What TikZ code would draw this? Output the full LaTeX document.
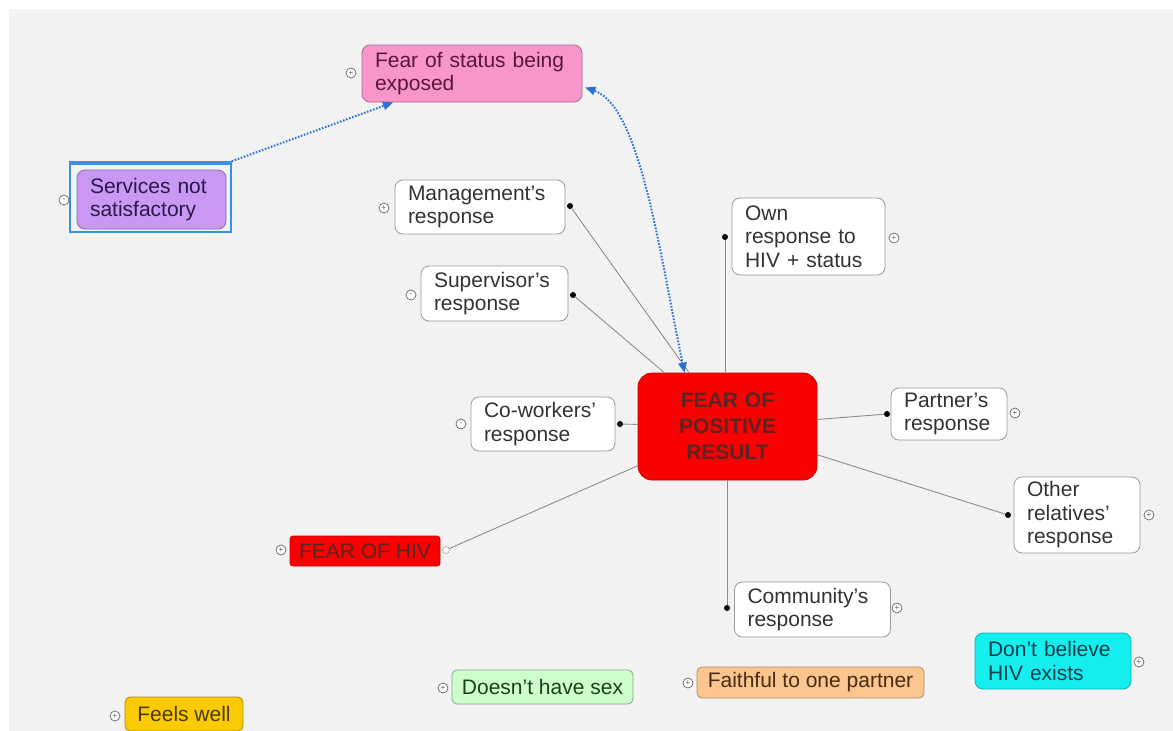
\documentclass[tikz,border=0pt]{standalone}
\usepackage{fontspec}
\setmainfont{Liberation Sans}
\usetikzlibrary{arrows.meta}
\definecolor{bggrey}{HTML}{F2F2F2}
\definecolor{boxline}{HTML}{9A9A9A}
\definecolor{txt}{HTML}{333333}
\definecolor{pinkfill}{HTML}{F896CA}
\definecolor{pinktxt}{HTML}{5A1838}
\definecolor{purplefill}{HTML}{C998F5}
\definecolor{purpletxt}{HTML}{2A1848}
\definecolor{redfill}{HTML}{FA0000}
\definecolor{redtxt}{HTML}{5C2424}
\definecolor{greenfill}{HTML}{CCFFCC}
\definecolor{greentxt}{HTML}{1C3F1C}
\definecolor{orangefill}{HTML}{FBC590}
\definecolor{orangetxt}{HTML}{4A2A10}
\definecolor{cyanfill}{HTML}{14EEEE}
\definecolor{cyantxt}{HTML}{0C3E4A}
\definecolor{yellowfill}{HTML}{FACA02}
\definecolor{yellowtxt}{HTML}{4A3A00}
\definecolor{selblue}{HTML}{3A8FE6}
\definecolor{arrowblue}{HTML}{2A72D2}
\definecolor{connline}{HTML}{8C8C8C}
\tikzset{
  topic/.style={draw=boxline, line width=0.8pt, rounded corners=8pt, fill=white,
    text=txt, align=left, inner xsep=13pt, inner ysep=2pt},
  oneline/.style={draw=boxline, line width=0.8pt, rounded corners=5pt,
    inner xsep=4pt, inner ysep=2pt},
  expander/.style={circle, draw=gray!80!black, fill=white, line width=0.7pt, minimum size=10pt,
    inner sep=0pt, font=\fontsize{8}{8}\selectfont, text=gray!70!black},
  dotend/.style={circle, fill=black, minimum size=6pt, inner sep=0pt},
  opendot/.style={circle, draw=gray, fill=white, minimum size=7pt, inner sep=0pt},
  conn/.style={draw=connline, line width=0.9pt},
  rel/.style={draw=arrowblue, line width=2pt, dash pattern=on 1.6pt off 1.6pt,
    {Triangle[length=10pt,width=9pt,fill=arrowblue,line width=0pt]}-{Triangle[length=10pt,width=9pt,fill=arrowblue,line width=0pt]}},
  relone/.style={draw=arrowblue, line width=2pt, dash pattern=on 1.6pt off 1.6pt,
    -{Triangle[length=10pt,width=9pt,fill=arrowblue,line width=0pt]}},
}
\begin{document}
\begin{tikzpicture}[x=1pt, y=-1pt, font=\fontsize{21}{23.5}\selectfont]
\useasboundingbox (0,0) rectangle (1173,731);
\fill[white] (0,0) rectangle (1173,731);
\fill[bggrey] (9,9) rectangle (1173,731);

% selection frame around "Services not satisfactory"
\node[draw=selblue, line width=1.5pt, minimum width=161pt, minimum height=70pt, inner sep=0pt] (sel) at (150.5,197) {};
\fill[selblue] (70,162) rectangle (231,165);

% topics
\node[topic, fill=pinkfill, draw=pinkfill!70!black, text=pinktxt, text width=194pt, minimum height=57pt] (status) at (472,73.5) {Fear of status being\\exposed};
\node[topic, fill=purplefill, draw=purplefill!70!black, text=purpletxt, text width=123pt, minimum height=59pt] (serv) at (151.5,199.5) {Services not\\satisfactory};
\node[topic, text width=144pt, minimum height=54pt] (mgmt) at (480,207) {Management's\\response};
\node[topic, text width=121pt, minimum height=55pt] (sup) at (494.5,293.5) {Supervisor's\\response};
\node[topic, text width=127pt, minimum height=77pt] (own) at (808.5,236.5) {Own\\response to\\HIV + status};
\node[topic, text width=118pt, minimum height=54pt] (cow) at (543,424) {Co-workers'\\response};
\node[topic, fill=redfill, draw=redfill!80!black, text=redtxt, align=center, text width=153pt, minimum height=107pt, rounded corners=14pt, font=\fontsize{21}{26}\selectfont\bfseries] (cen) at (727.5,426.5) {FEAR OF\\POSITIVE\\RESULT};
\node[topic, text width=90pt, minimum height=52pt] (part) at (949,414) {Partner's\\response};
\node[topic, text width=100pt, minimum height=76pt] (oth) at (1077,515) {Other\\relatives'\\response};
\node[topic, text width=130pt, minimum height=55pt] (comm) at (812.5,609.5) {Community's\\response};
\node[topic, fill=cyanfill, draw=cyanfill!75!black, text=cyantxt, text width=130pt, minimum height=56pt] (dont) at (1053,661) {Don't believe\\HIV exists};

% single-line topics
\node[oneline, fill=redfill, draw=redfill!80!black, text=redtxt, rounded corners=3pt, minimum width=150pt, minimum height=30pt] (hiv) at (365,551) {FEAR OF HIV};
\node[oneline, fill=orangefill, draw=orangefill!70!black, text=orangetxt, minimum width=227pt, minimum height=31pt] (faith) at (810.5,682.5) {Faithful to one partner};
\node[oneline, fill=greenfill, draw=greenfill!65!black, text=greentxt, minimum width=181pt, minimum height=34pt] (sex) at (542.5,687) {Doesn't have sex};
\node[oneline, fill=yellowfill, draw=yellowfill!70!black, text=yellowtxt, minimum width=118pt, minimum height=34pt] (feels) at (184,714) {Feels well};

% expanders
\node[expander] (e1) at (351,73) {+};
\node[expander] (e2) at (64,200) {-};
\node[expander] (e3) at (384,208) {+};
\node[expander] (e4) at (411,295) {-};
\node[expander] (e5) at (894,238) {+};
\node[expander] (e6) at (461,424) {-};
\node[expander] (e7) at (1015,413) {+};
\node[expander] (e8) at (1149,515) {+};
\node[expander] (e9) at (281,550) {+};
\node[expander] (e10) at (897,608) {+};
\node[expander] (e11) at (1139,662) {+};
\node[expander] (e12) at (688,683) {+};
\node[expander] (e13) at (443,688) {+};
\node[expander] (e14) at (115,716) {+};

% connector end dots
\node[dotend] (dm) at (570,206) {};
\node[dotend] (ds) at (573,295) {};
\node[dotend] (do) at (725,237) {};
\node[dotend] (dc) at (620,424) {};
\node[dotend] (dp) at (887,414) {};
\node[dotend] (dr) at (1008,515) {};
\node[dotend] (dcm) at (727,608) {};
\node[opendot] (dh) at (446,550) {};

% connectors
\draw[conn] (dm) -- (cen);
\draw[conn] (ds) -- (cen);
\draw[conn] (do) -- (do |- cen.north);
\draw[conn] (dc) -- (cen);
\draw[conn] (dp) -- (cen);
\draw[conn] (dr) -- (cen);
\draw[conn] (dcm) -- (dcm |- cen.south);
\draw[conn] (dh) -- (cen);

% relationships
\draw[relone] (sel.north east) -- (status);
\draw[rel] ([xshift=3pt,yshift=-14pt]status.east) .. controls +(55,20) and +(-25,-120) .. ([xshift=-43pt]cen.north);
\end{tikzpicture}
\end{document}
